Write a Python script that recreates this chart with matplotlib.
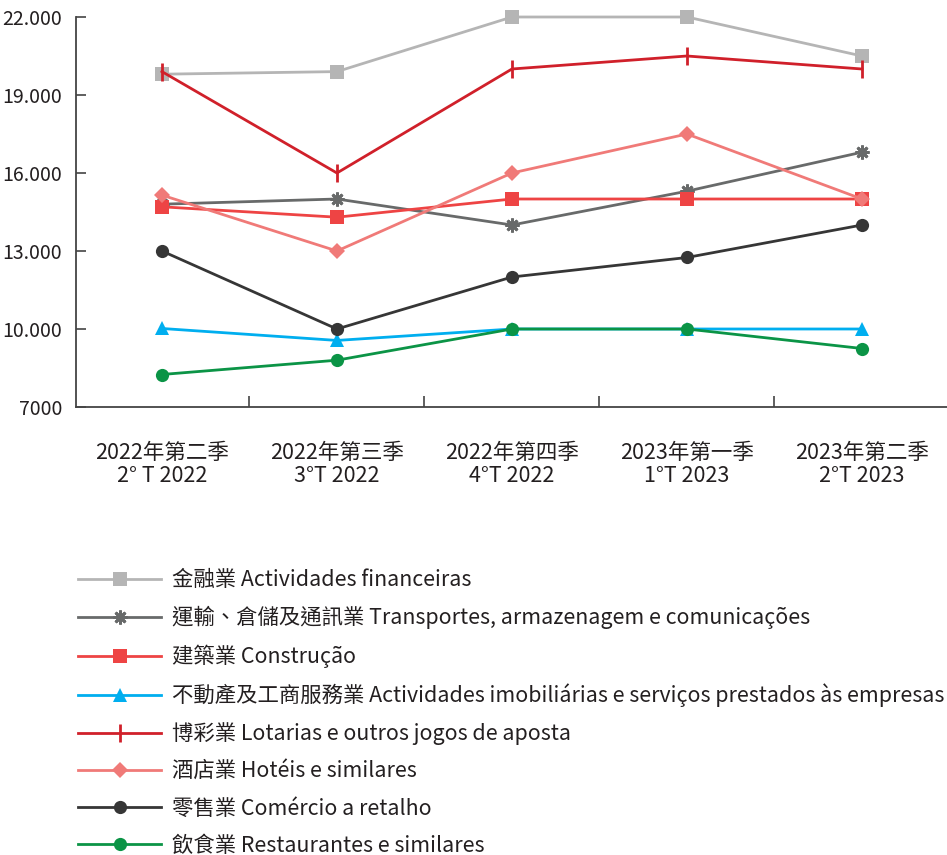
import matplotlib
matplotlib.use("Agg")
import matplotlib.pyplot as plt

plt.rcParams['font.family'] = ['Noto Sans CJK TC', 'DejaVu Sans']

categories = ["2022年第二季\n2° T 2022", "2022年第三季\n3°T 2022", "2022年第四季\n4°T 2022",
              "2023年第一季\n1°T 2023", "2023年第二季\n2°T 2023"]

finance = [19800, 19900, 22000, 22000, 20500]
transport = [14800, 15000, 14000, 15300, 16800]
construction = [14700, 14300, 15000, 15000, 15000]
real_estate = [10020, 9560, 10000, 10000, 10000]
gambling = [19900, 16000, 20000, 20500, 20000]
hotels = [15150, 13000, 16000, 17500, 15000]
retail = [13000, 10000, 12000, 12750, 14000]
restaurants = [8250, 8800, 10000, 10000, 9250]

series_labels = [
    "金融業 Actividades financeiras",
    "運輸、倉儲及通訊業 Transportes, armazenagem e comunicações",
    "建築業 Construção",
    "不動產及工商服務業 Actividades imobiliárias e serviços prestados às empresas",
    "博彩業 Lotarias e outros jogos de aposta",
    "酒店業 Hotéis e similares",
    "零售業 Comércio a retalho",
    "飲食業 Restaurantes e similares",
]

y_ticks = [7000, 10000, 13000, 16000, 19000, 22000]
y_ticklabels = ["7000", "10.000", "13.000", "16.000", "19.000", "22.000"]

series = [finance, transport, construction, real_estate, gambling, hotels, retail, restaurants]
colors = ["#b5b5b5", "#686a6a", "#ee4444", "#00aeef", "#d0202a", "#f07a78", "#363636", "#0b9446"]
asterisk = (8, 2, 0)
markers = ["s", asterisk, "s", "^", "|", "D", "o", "o"]
msizes = [9.5, 10, 9.5, 9.5, 13, 8.5, 9.5, 9.5]
mews = [0, 2.0, 0, 0, 2, 0, 0, 0]

fig = plt.figure(figsize=(9.47, 8.55), dpi=100)
ax = fig.add_axes([76/947, 1-407/855, 1-76/947, (407-17)/855])

x = list(range(len(categories)))
handles = []
for vals, c, m, ms, mew, lab in zip(series, colors, markers, msizes, mews, series_labels):
    h, = ax.plot(x, vals, color=c, lw=2.0, marker=m, markersize=ms,
                 markeredgewidth=mew, markeredgecolor=c, markerfacecolor=c,
                 label=lab, clip_on=False)
    handles.append(h)

ax.set_xlim(-0.491, 4.486)
ax.set_ylim(7000, 22000)
ax.set_yticks(y_ticks)
ax.set_yticklabels(y_ticklabels)
ax.set_xticks(x)
ax.set_xticklabels(categories, fontsize=15.5, linespacing=1.05, color="#231f20")
ax.set_xticks([0.5, 1.5, 2.5, 3.5], minor=True)
ax.tick_params(axis='x', which='major', length=0, pad=25)
ax.tick_params(axis='x', which='minor', length=8, width=1.2, direction='in', color="#444444")
ax.tick_params(axis='y', which='major', length=7, width=1.2, direction='in', pad=10,
               labelsize=14, color="#444444", labelcolor="#231f20")
for s in ["top", "right"]:
    ax.spines[s].set_visible(False)
for s in ["left", "bottom"]:
    ax.spines[s].set_color("#444444")
    ax.spines[s].set_linewidth(1.3)

leg = fig.legend(handles=handles, loc="upper left", bbox_to_anchor=(78/947, 1-569/855),
                 frameon=False, fontsize=15.4, handlelength=3.9, handletextpad=0.5,
                 labelspacing=0.71, borderaxespad=0, borderpad=0)
for t in leg.get_texts():
    t.set_color("#231f20")

fig.savefig("out.png", dpi=100)
